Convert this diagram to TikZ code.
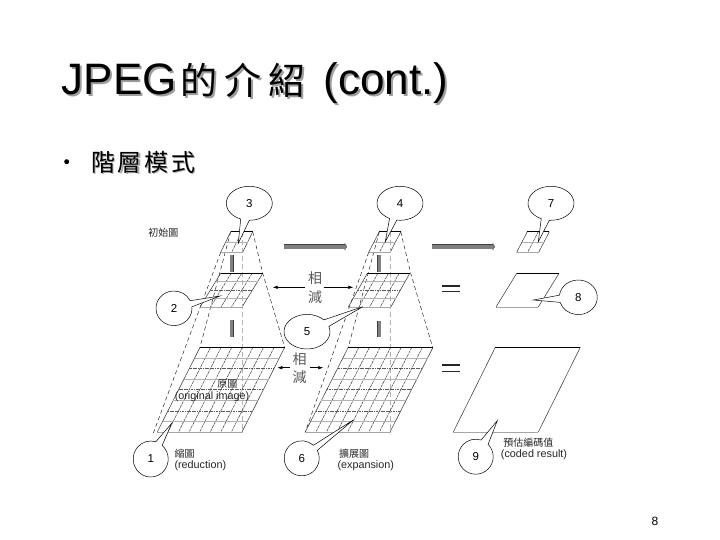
\documentclass[tikz,border=0pt]{standalone}
\usepackage{fontspec}
\setmainfont{Liberation Sans}
\newfontfamily\cjk{Noto Sans CJK TC}
\usetikzlibrary{arrows.meta,calc}
\tikzset{
  topedge/.style={line width=.9pt,draw=black},
  botedge/.style={line width=.8pt,draw=black!35},
  sideline/.style={line width=.5pt,draw=black!80},
  vgrid/.style={line width=.5pt,draw=black!75,dash pattern=on 3pt off .8pt},
  hgridA/.style={line width=.6pt,draw=black!65,dash pattern=on 1.2pt off .5pt},
  hgridB/.style={line width=.6pt,draw=black!30},
  guide/.style={line width=.5pt,draw=black!85,dash pattern=on 4pt off 3pt},
  axisguide/.style={line width=.5pt,draw=black!30,dash pattern=on 5pt off 3pt},
  callout/.style={line width=.5pt,draw=black,fill=white},
  blockh/.style={line width=4pt,draw=black!50,-{Triangle[length=2pt,width=6.5pt,fill=black!50]},
    preaction={draw=black!75,line width=5pt,-{Triangle[length=2.5pt,width=7.5pt]}}},
  blockv/.style={line width=2.6pt,draw=black!50,
    preaction={draw=black!75,line width=3.8pt}},
  minusarrow/.style={line width=.6pt,draw=black,-{Latex[length=5pt,width=3.5pt]}},
  eqbar/.style={line width=1.1pt,draw=black!85},
  lbl/.style={inner sep=0pt,font=\fontsize{10.8}{12}\selectfont,text=black!85},
  cjksmall/.style={inner sep=0pt,font=\cjk\fontsize{10}{12}\selectfont,text=black!85},
  cjkmid/.style={inner sep=0pt,font=\cjk\fontsize{14}{16}\selectfont,text=black!65},
  num/.style={inner sep=0pt,font=\fontsize{11.5}{13}\selectfont},
}
\newcommand{\titletext}{JPEG\hspace{4pt}{\cjk\fontsize{37}{40}\selectfont 的\hspace{7pt}介\hspace{7pt}紹}\hspace{18pt}(cont.)}
\newcommand{\subtext}{階\hspace{2.6pt}層\hspace{2.6pt}模\hspace{2.6pt}式}
\newcommand{\gridpar}[7]{%
  \coordinate (#7TL) at (#1,#2); \coordinate (#7BL) at (#3,#4);
  \coordinate (#7TR) at (#1+#5,#2); \coordinate (#7BR) at (#3+#5,#4);
  \draw[sideline] (#7TL) -- (#7BL);
  \draw[sideline] (#7TR) -- (#7BR);
}
\newcommand{\gridlines}[3]{% name, cols, rows
  \foreach \i in {1,...,\numexpr#2-1\relax}{
    \draw[vgrid] ($(#1TL)!\i/#2!(#1TR)$) -- ($(#1BL)!\i/#2!(#1BR)$);}
  \foreach \j in {1,...,\numexpr#3-1\relax}{
    \pgfmathtruncatemacro\m{mod(\j,2)}
    \ifnum\m=1 \draw[hgridB] ($(#1TL)!\j/#3!(#1BL)$) -- ($(#1TR)!\j/#3!(#1BR)$);
    \else \draw[hgridA] ($(#1TL)!\j/#3!(#1BL)$) -- ($(#1TR)!\j/#3!(#1BR)$);\fi}
}
\newcommand{\gridedges}[1]{%
  \draw[topedge] (#1TL) -- (#1TR);
  \draw[botedge] (#1BL) -- (#1BR);
}
\newcommand{\calloutshape}[9]{%
  \draw[callout] (#2,#3) ++(#6:#4 and #5) arc[start angle=#6,end angle=#7+360,x radius=#4,y radius=#5] -- (#8,#9) -- cycle;
  \node[num] (c#1) at (#2,#3) {#1};
}
\begin{document}
\begin{tikzpicture}[x=1pt,y=1pt,yscale=-1]
\useasboundingbox (0,0) rectangle (720,540);
\fill[white] (0,0) rectangle (720,540);

% title and bullet line, with their shadows
\node[anchor=base west,inner sep=0pt,text=black!38,font=\fontsize{44}{46}\selectfont] (titleshadow) at (63.5,97) {\titletext};
\node[anchor=base west,inner sep=0pt,font=\fontsize{44}{46}\selectfont] (title) at (61.5,95) {\titletext};
\node[circle,fill=black,inner sep=0pt,minimum size=5pt] (bullet) at (66.7,161.7) {};
\node[anchor=west,inner sep=0pt,text=black!35,font=\cjk\fontsize{24}{28}\selectfont] (subshadow) at (92.5,163.5) {\subtext};
\node[anchor=west,inner sep=0pt,font=\cjk\fontsize{24}{28}\selectfont] (sub) at (91,162) {\subtext};

% pyramid A
\gridpar{230.7}{231.7}{220.7}{252.3}{22}{2}{at}
\gridpar{220.7}{273.3}{200}{307}{42}{4}{am}
\gridpar{200}{347.3}{157.3}{432}{84.7}{8}{ab}
\draw[guide] (230.7,231.7) -- (200,347.3);
\draw[guide] (220.7,252.3) -- (153,434);
\draw[guide] (252.7,231.7) -- (262.7,273.3) -- (284.7,347.3);
\draw[axisguide] (242.7,231.7) -- (242.7,432);
\gridlines{at}{2}{2}\gridlines{am}{4}{4}\gridlines{ab}{8}{8}
\gridedges{at}\gridedges{am}\gridedges{ab}

% pyramid B
\gridpar{379.3}{231.7}{368.7}{252.3}{21.5}{2}{bt}
\gridpar{367.3}{273.3}{348.3}{307}{42.5}{4}{bm}
\gridpar{348.3}{347.3}{305.3}{432}{84.7}{8}{bb}
\draw[guide] (379.3,231.7) -- (348.3,347.3);
\draw[guide] (368.7,252.3) -- (305.3,432);
\draw[guide] (400.7,231.7) -- (410.7,273.3) -- (432.7,347.3);
\draw[axisguide] (390.7,231.7) -- (390.7,432);
\gridlines{bt}{2}{2}\gridlines{bm}{4}{4}\gridlines{bb}{8}{8}
\gridedges{bt}\gridedges{bm}\gridedges{bb}

% results
\gridpar{527.3}{231.7}{516.7}{252.3}{22}{2}{ct}
\gridpar{516.7}{273.3}{496}{307}{42.3}{4}{cm}
\gridpar{495.3}{347.3}{453.3}{432}{85}{8}{cb}
\gridlines{ct}{2}{2}
\gridedges{ct}\gridedges{cm}\gridedges{cb}

% block arrows
\coordinate (h1a) at (284,246.7); \coordinate (h1b) at (347,246.7);
\coordinate (h2a) at (432.3,246.7); \coordinate (h2b) at (495,246.7);
\draw[blockh] (h1a) -- (h1b);
\draw[blockh] (h2a) -- (h2b);
\coordinate (v1a) at (231.7,272); \coordinate (v1b) at (231.7,255);
\coordinate (v2a) at (231.7,337); \coordinate (v2b) at (231.7,320);
\coordinate (v3a) at (379.3,255); \coordinate (v3b) at (379.3,272);
\coordinate (v4a) at (379.3,321); \coordinate (v4b) at (379.3,337);
\draw[blockv] (v1a) -- (v1b);
\draw[blockv] (v2a) -- (v2b);
\draw[blockv] (v3a) -- (v3b);
\draw[blockv] (v4a) -- (v4b);

% subtraction labels and arrows
\node[cjkmid] (sub1a) at (315,278.5) {相};
\node[cjkmid] (sub1b) at (315,297) {減};
\node[cjkmid] (sub2a) at (299.5,359.5) {相};
\node[cjkmid] (sub2b) at (299.5,377.5) {減};
\coordinate (m1) at (305,287.3); \coordinate (m1l) at (272.7,287.3);
\coordinate (m2) at (324,287.3); \coordinate (m2r) at (353.3,287.3);
\coordinate (m3) at (290,367.7); \coordinate (m3l) at (277.3,367.7);
\coordinate (m4) at (310,367.7); \coordinate (m4r) at (323.3,367.7);
\draw[minusarrow] (m1) -- (m1l);
\draw[minusarrow] (m2) -- (m2r);
\draw[minusarrow] (m3) -- (m3l);
\draw[minusarrow] (m4) -- (m4r);

% equals signs
\draw[eqbar] (442.3,286) -- (460,286);
\draw[eqbar] (442.3,291.7) -- (460,291.7);
\draw[eqbar] (442.3,365) -- (460,365);
\draw[eqbar] (442.3,371.7) -- (460,371.7);

% texts
\node[cjksmall] (t1) at (163.3,232.7) {初始圖};
\node[cjksmall] (t2) at (227.3,384) {原圖};
\node[lbl] (t3) at (212,396.7) {(original image)};
\node[cjksmall,anchor=west] (t4) at (174.5,454) {縮圖};
\node[lbl,anchor=west] (t5) at (174.3,466) {(reduction)};
\node[cjksmall,anchor=west] (t6) at (339,454) {擴展圖};
\node[lbl,anchor=west] (t7) at (337.3,466) {(expansion)};
\node[cjksmall] (t8) at (528.3,442.3) {預估編碼值};
\node[lbl] (t9) at (534,454.7) {(coded result)};
\node[inner sep=0pt,font=\fontsize{12}{14}\selectfont] (page) at (655,521) {8};

% callouts
\calloutshape{3}{249.3}{203.3}{23}{17}{112}{90}{238.3}{243.3}
\calloutshape{4}{400}{203.3}{23}{17}{117}{98}{385.3}{241.7}
\calloutshape{7}{551}{203.3}{23}{17}{115}{94}{538.3}{241.7}
\calloutshape{2}{174}{308.3}{18}{17.3}{-5}{-26}{220}{296}
\calloutshape{5}{307}{331.7}{23}{17.3}{-18}{-43}{362.7}{306.7}
\calloutshape{1}{150.7}{459}{17.5}{18}{-49}{-73}{171.7}{423.3}
\calloutshape{6}{301.7}{458.3}{17.5}{17.5}{-27}{-48}{353.3}{420}
\calloutshape{8}{578.3}{297.3}{19}{17.3}{187}{163}{533.3}{300}
\calloutshape{9}{475.7}{456.7}{17.5}{17.5}{-45}{-72}{497.3}{420.7}
\end{tikzpicture}
\end{document}
